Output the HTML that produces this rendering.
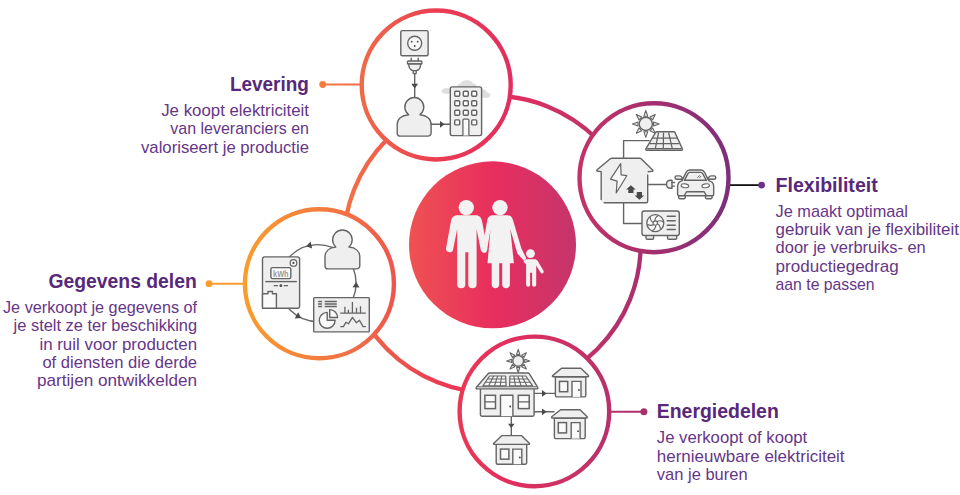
<!DOCTYPE html>
<html lang="nl"><head><meta charset="utf-8"><title>Energie</title>
<style>
html,body{margin:0;padding:0;background:#fff;}
body{width:960px;height:495px;overflow:hidden;}
svg{display:block;}
text{font-family:"Liberation Sans",sans-serif;}
.h{font-weight:700;font-size:20px;fill:#58287a;}
.b{font-size:16.2px;fill:#663688;}
.i{fill:#efefef;stroke:#646464;stroke-width:1.4;stroke-linejoin:round;stroke-linecap:round;}
.l{fill:none;stroke:#646464;stroke-width:1.4;stroke-linejoin:round;stroke-linecap:round;}
.d{fill:#4a4a4a;stroke:none;}
</style></head><body>
<svg width="960" height="495" viewBox="0 0 960 495">
<defs>
<linearGradient id="g" gradientUnits="userSpaceOnUse" x1="245" y1="0" x2="728" y2="0">
<stop offset="0" stop-color="#f89d2e"/>
<stop offset="0.24" stop-color="#f06a48"/>
<stop offset="0.395" stop-color="#eb3d52"/>
<stop offset="0.549" stop-color="#e22e5e"/>
<stop offset="0.692" stop-color="#c53267"/>
<stop offset="0.847" stop-color="#a32f6e"/>
<stop offset="1" stop-color="#7d2f7a"/>
</linearGradient>
<linearGradient id="c" gradientUnits="userSpaceOnUse" x1="409" y1="0" x2="576" y2="0">
<stop offset="0" stop-color="#ef5252"/>
<stop offset="0.5" stop-color="#e82e5e"/>
<stop offset="1" stop-color="#c5356b"/>
</linearGradient>
</defs>
<rect width="960" height="495" fill="#fff"/>

<circle cx="492.2" cy="244.2" r="148.5" fill="none" stroke="url(#g)" stroke-width="4.3"/>
<path d="M322.7 84.5H361" stroke="url(#g)" stroke-width="1.9" fill="none"/>
<circle cx="322.7" cy="84.5" r="3.4" fill="url(#g)"/>
<path d="M209 283.7H245" stroke="#f89d2e" stroke-width="1.9" fill="none"/>
<circle cx="209" cy="283.7" r="3.4" fill="#f89d2e"/>
<path d="M729 185.1H761" stroke="#111" stroke-width="1.8" fill="none"/>
<circle cx="761.6" cy="185.1" r="3.4" fill="#6c3285"/>
<path d="M609 411.7H644" stroke="url(#g)" stroke-width="1.9" fill="none"/>
<circle cx="643.9" cy="411.7" r="3.5" fill="#ab316d"/>
<circle cx="436.2" cy="85.0" r="74.5" fill="#fff" stroke="url(#g)" stroke-width="4.4"/>
<circle cx="654.0" cy="177.7" r="74.5" fill="#fff" stroke="url(#g)" stroke-width="4.4"/>
<circle cx="319.4" cy="283.8" r="74.5" fill="#fff" stroke="url(#g)" stroke-width="4.4"/>
<circle cx="534.4" cy="411.4" r="74.8" fill="#fff" stroke="url(#g)" stroke-width="4.4"/>
<circle cx="492.5" cy="244.8" r="83.5" fill="url(#c)"/>
<g fill="#f2f2f2">
<circle cx="466.3" cy="207.6" r="7.7"/>
<path d="M457.5 215.2H475.5C479.5 215.2 481.3 217.5 482 221L487.2 248.6C487.8 252.5 481.8 253.8 480.8 250L476.6 229V284.8C476.6 289.5 468.3 289.5 468.3 284.8V252.2H465.3V284.8C465.3 289.5 457.2 289.5 457.2 284.8V229L453 250C452 253.8 445.4 252.5 446 248.6L451 221C451.7 217.5 453.5 215.2 457.5 215.2Z"/>
<circle cx="500.0" cy="207.6" r="7.7"/>
<path d="M493 215.2H507.5C510.5 215.2 512 217 512.8 219.5L521.4 248.5L526.3 258.3L524 260.8L517.4 253.6L510.3 229.3L513.9 263.3H509.9V284.8C509.9 289.3 502.2 289.3 502.2 284.8V263.3H499.2V284.8C499.2 289.3 491.7 289.3 491.7 284.8V263.3H487.5L490.5 229.3L487 250.6C486.5 254 481.5 253.4 481.9 250L487.4 219.5C488 217 490 215.2 493 215.2Z"/>
<circle cx="530.5" cy="253.6" r="4.4"/>
<path d="M527.3 259.2H534.3C536 259.2 537 259.8 537.8 261L543.6 271C544.5 272.8 541.8 274.4 540.7 272.7L536.2 265.5V284.6C536.2 287.6 532.1 287.6 532.1 284.6V272.8H530.1V284.6C530.1 287.6 526.1 287.6 526.1 284.6V264.5L523.5 261.5L525 259.5Z"/>
</g>
<g>
<g fill="#dedede"><ellipse cx="446.5" cy="91" rx="5" ry="3"/><ellipse cx="467" cy="84.2" rx="6" ry="4"/><ellipse cx="461.500" cy="86" rx="4" ry="2.5"/><ellipse cx="472.500" cy="86" rx="4" ry="2.5"/><ellipse cx="485.500" cy="95" rx="5" ry="3"/><ellipse cx="483.500" cy="92" rx="3" ry="2.500"/></g>
<rect class="i" x="400.8" y="30.6" width="27.3" height="25.1" rx="1.5"/>
<circle cx="414.7" cy="43.2" r="7" fill="#f8f8f8" stroke="#646464" stroke-width="1.4"/>
<circle class="d" cx="411.7" cy="41.7" r="0.9"/><circle class="d" cx="417.7" cy="41.7" r="0.9"/><circle class="d" cx="414.7" cy="46" r="0.9"/>
<path class="l" d="M411.2 58.2V61M418.2 58.2V61"/>
<rect class="i" x="407.5" y="61" width="14.400" height="3" rx="0.800"/>
<path class="i" d="M408.7 64H420.700C420.7 67.5 418.7 70.3 416.3 70.6H413.100C410.700 70.3 408.700 67.500 408.700 64Z"/>
<rect class="i" x="413.2" y="70.6" width="3" height="3" rx="0.5"/>
<path class="l" d="M414.700 73.6V98"/>
<path class="d" d="M414.70 88.40 L411.30 83.80 L418.10 83.80 Z"/>
<path class="i" d="M408.70 114.70 A9.50 9.50 0 1 1 419.90 114.70 C426.84 115.30 431.10 119.20 431.10 124.70 V132.90 a3.2 3.2 0 0 1 -3.2 3.2 H400.40 a3.2 3.2 0 0 1 -3.2 -3.2 V124.70 C397.20 119.20 401.57 115.30 408.70 114.70 Z"/>
<path class="l" d="M431.100 124.2H450"/>
<path class="d" d="M444.60 124.30 L440.00 127.70 L440.00 120.90 Z"/>
<rect class="i" x="450.3" y="86.9" width="31.300" height="48.7" rx="1.800"/>
<rect x="454.70" y="91.20" width="5" height="5" rx="1" fill="#fafafa" stroke="#646464" stroke-width="1.4"/>
<rect x="463.30" y="91.20" width="5" height="5" rx="1" fill="#fafafa" stroke="#646464" stroke-width="1.4"/>
<rect x="471.70" y="91.20" width="5" height="5" rx="1" fill="#fafafa" stroke="#646464" stroke-width="1.4"/>
<rect x="454.70" y="100.80" width="5" height="5" rx="1" fill="#fafafa" stroke="#646464" stroke-width="1.4"/>
<rect x="463.30" y="100.80" width="5" height="5" rx="1" fill="#fafafa" stroke="#646464" stroke-width="1.4"/>
<rect x="471.70" y="100.80" width="5" height="5" rx="1" fill="#fafafa" stroke="#646464" stroke-width="1.4"/>
<rect x="454.70" y="110.30" width="5" height="5" rx="1" fill="#fafafa" stroke="#646464" stroke-width="1.4"/>
<rect x="463.30" y="110.30" width="5" height="5" rx="1" fill="#fafafa" stroke="#646464" stroke-width="1.4"/>
<rect x="471.70" y="110.30" width="5" height="5" rx="1" fill="#fafafa" stroke="#646464" stroke-width="1.4"/>
<rect x="454.70" y="119.90" width="5" height="5" rx="1" fill="#fafafa" stroke="#646464" stroke-width="1.4"/>
<rect x="471.70" y="119.90" width="5" height="5" rx="1" fill="#fafafa" stroke="#646464" stroke-width="1.4"/>
<path d="M462.900 135.6V120.2a1 1 0 0 1 1 -1h4a1 1 0 0 1 1 1V135.6" fill="#fafafa" stroke="#646464" stroke-width="1.3"/>
</g>
<g>
<circle cx="645.80" cy="123.90" r="6.60" fill="#efefef" stroke="#646464" stroke-width="1.40"/><path d="M643.82 116.15 L645.80 110.50 L647.78 116.15 Z" fill="#e4e4e4" stroke="#646464" stroke-width="1.05" stroke-linejoin="round"/><path d="M649.88 117.02 L655.28 114.42 L652.68 119.82 Z" fill="#e4e4e4" stroke="#646464" stroke-width="1.05" stroke-linejoin="round"/><path d="M653.55 121.92 L659.20 123.90 L653.55 125.88 Z" fill="#e4e4e4" stroke="#646464" stroke-width="1.05" stroke-linejoin="round"/><path d="M652.68 127.98 L655.28 133.38 L649.88 130.78 Z" fill="#e4e4e4" stroke="#646464" stroke-width="1.05" stroke-linejoin="round"/><path d="M647.78 131.65 L645.80 137.30 L643.82 131.65 Z" fill="#e4e4e4" stroke="#646464" stroke-width="1.05" stroke-linejoin="round"/><path d="M641.72 130.78 L636.32 133.38 L638.92 127.98 Z" fill="#e4e4e4" stroke="#646464" stroke-width="1.05" stroke-linejoin="round"/><path d="M638.05 125.88 L632.40 123.90 L638.05 121.92 Z" fill="#e4e4e4" stroke="#646464" stroke-width="1.05" stroke-linejoin="round"/><path d="M638.92 119.82 L636.32 114.42 L641.72 117.02 Z" fill="#e4e4e4" stroke="#646464" stroke-width="1.05" stroke-linejoin="round"/>
<path class="l" d="M649 140.6H623.600V158.2M623.600 202.7V223.5H642M647.700 184.500H666.500"/>
<path class="i" d="M656.8 131.7H673.700C674.300 131.700 674.700 132 675 132.600L682.300 148.800C682.700 149.700 682.300 150.300 681.400 150.300H646.800C645.900 150.300 645.500 149.700 645.900 148.800L655.500 132.600C655.800 132 656.200 131.700 656.800 131.700Z"/>
<path d="M658.600 132.500L655.300 148.600M663.500 132.500L663.300 148.600M668.600 132.500L672.300 148.600M652.400 138.100H677M649.600 143.700H679.500M647.200 148.500H681.500" fill="none" stroke="#646464" stroke-width="1.250"/>
<path d="M601.2 171.500L597.600 171.200C596.600 171.100 596.400 170.300 597.100 169.700L610.300 158.800C610.800 158.400 611.300 158.200 612 158.200H639.400C640.100 158.200 640.600 158.400 641.100 158.800L652.600 169.900C653.200 170.600 652.900 171.300 652 171.400L647.700 171.800V201.200C647.700 202.200 647.200 202.700 646.200 202.700H602.700C601.700 202.700 601.200 202.200 601.200 201.200Z" fill="#efefef" stroke="none"/>
<path class="l" d="M601.2 199.500V171.600L597.600 171.200C596.600 171.100 596.400 170.300 597.100 169.700L610.300 158.800C610.800 158.400 611.300 158.200 612 158.200H639.400C640.100 158.200 640.600 158.400 641.100 158.800L652.600 169.900C653.200 170.600 652.900 171.300 652 171.400L648.200 171.800M647.700 175V201.200C647.700 202.200 647.200 202.700 646.200 202.700H604.200" stroke-width="1.4"/>
<path d="M620.7 163.600L610.500 179.100L617.100 181.100L616.200 193L626.800 175.700L621.100 174.800Z" fill="#f8f8f8" stroke="#646464" stroke-width="1.200" stroke-linejoin="round"/>
<path class="d" d="M630.9 185.200L635.700 189.500H633.500V193H628.300V189.500H626.100Z"/>
<path class="d" d="M639.400 199.800L634.600 195.500H636.800V192H642V195.500H644.200Z"/>
<path class="i" d="M672 180.300V188.300H670.500C668 188.300 666.500 186.500 666.500 184.300C666.500 182.100 668 180.300 670.500 180.300Z"/>
<path class="l" d="M672 182.500H674.600M672 186.100H674.600"/>
<path class="i" d="M682.100 180.600L686.100 172.300C686.800 170.800 687.900 170 689.500 170H701.100C702.700 170 703.800 170.800 704.500 172.300L708.700 180.600C712.300 181.500 713.700 183.300 713.700 186.500V194.200C713.700 195.200 713.200 195.700 712.200 195.700H679.100C678.100 195.700 677.600 195.200 677.600 194.200V186.500C677.600 183.300 679 181.500 682.100 180.600Z"/>
<path class="i" d="M684.400 180.300L687.900 173.700C688.300 172.800 688.900 172.400 689.800 172.400H700.800C701.700 172.400 702.300 172.800 702.700 173.700L706.400 180.300Z" fill="#fafafa"/>
<path class="i" d="M682.300 179.300H677.200C675.700 179.300 675 178.500 675 177.500C675 176.500 675.700 175.900 676.700 175.900H679.500C680.800 175.900 681.600 176.500 682.200 177.600Z"/>
<path class="i" d="M708.500 179.300H713.600C715.100 179.300 715.800 178.500 715.800 177.500C715.800 176.500 715.100 175.900 714.100 175.900H711.300C710 175.900 709.200 176.500 708.600 177.600Z"/>
<ellipse cx="684.900" cy="185.800" rx="3.800" ry="1.900" fill="#fff" stroke="#646464" stroke-width="1.1" transform="rotate(8 684.9 185.8)"/>
<ellipse cx="705.700" cy="185.800" rx="3.800" ry="1.900" fill="#fff" stroke="#646464" stroke-width="1.1" transform="rotate(-8 705.7 185.8)"/>
<path class="l" d="M684.300 195.500L686.700 191.700H704L706.400 195.500"/>
<path class="i" d="M678.700 195.700H685.300V197.600C685.300 198.300 684.900 198.700 684.200 198.700H679.800C679.100 198.700 678.700 198.300 678.700 197.600Z"/>
<path class="i" d="M705.500 195.700H712.100V197.600C712.100 198.300 711.700 198.700 711 198.700H706.600C705.900 198.700 705.500 198.300 705.500 197.600Z"/>
<path d="M697.400 177.900L699.600 175.300M699.300 178L701 176" fill="none" stroke="#646464" stroke-width="0.9"/>
<rect class="i" x="646" y="235" width="7.600" height="4.200" rx="1.300"/>
<rect class="i" x="667.500" y="235" width="9.200" height="4.200" rx="1.300"/>
<rect class="i" x="642" y="211" width="37.300" height="24.500" rx="2.200"/>
<circle cx="655.300" cy="223.100" r="8.500" fill="#f8f8f8" stroke="#646464" stroke-width="1.300"/>
<path d="M657.37 223.85Q660.37 225.24 660.40 229.52M655.68 225.27Q655.98 228.56 652.29 230.73M653.61 224.51Q650.91 226.42 647.19 224.30M653.23 222.35Q650.23 220.96 650.20 216.68M654.92 220.93Q654.62 217.64 658.31 215.47M656.99 221.69Q659.69 219.78 663.41 221.90" fill="none" stroke="#646464" stroke-width="1.100"/>
<circle cx="655.300" cy="223.100" r="2.200" fill="#f8f8f8" stroke="#646464" stroke-width="1.100"/>
<path d="M667.300 216.300H675.200M667.300 220.800H675.200M667.300 225.200H675.200M667.300 229.600H675.200" fill="none" stroke="#646464" stroke-width="1.500" stroke-linecap="round"/>
</g>
<g>
<circle class="l" cx="317.600" cy="283.100" r="38.500"/>
<path class="d" d="M306.12 246.25 L310.57 241.61 L312.18 248.42 Z"/>
<path class="d" d="M356.18 281.88 L359.47 287.41 L352.47 287.14 Z"/>
<path class="d" d="M301.11 318.00 L294.69 318.41 L298.12 312.30 Z"/>
<rect class="i" x="262.500" y="256.900" width="37.100" height="51.300" rx="2.200" stroke-width="1.500"/>
<circle cx="293.500" cy="262.900" r="3.300" fill="#fafafa" stroke="#646464" stroke-width="1.200"/>
<circle class="d" cx="293.500" cy="262.900" r="1.100"/>
<rect x="270.900" y="267.600" width="19.900" height="11" rx="1.500" fill="#fafafa" stroke="#646464" stroke-width="1.400"/>
<text x="280.850" y="276.700" text-anchor="middle" style="font-size:8.500px;fill:#9a9a9a;font-weight:700" textLength="15.500" lengthAdjust="spacingAndGlyphs">kWh</text>
<path d="M265.300 281.600H296.800" fill="none" stroke="#646464" stroke-width="1.400"/>
<path d="M273.700 285.700H278M283.700 285.700H288" fill="none" stroke="#646464" stroke-width="1.300"/>
<circle class="d" cx="280.850" cy="285.700" r="1.400"/>
<path d="M262.500 293.700H268V291.500H272.400V293.700H276.400V308.200H262.500Z" fill="#fafafa" stroke="#646464" stroke-width="1.400" stroke-linejoin="round"/>
<path class="i" d="M335.80 247.00 A9.80 9.80 0 1 1 349.00 247.00 C355.70 247.60 359.80 251.50 359.80 257.00 V265.70 a3.2 3.2 0 0 1 -3.2 3.2 H328.20 a3.2 3.2 0 0 1 -3.2 -3.2 V257.00 C325.00 251.50 329.10 247.60 335.80 247.00 Z"/>
<rect class="i" x="313.700" y="297.600" width="55.600" height="34.300" rx="0.800" stroke-width="1.500"/>
<path d="M318.100 301.400H322.100M324.700 301.400H336.800M318.100 303.900H322.100M324.700 303.900H336.800M318.100 306.400H322.100M324.700 306.400H336.800" fill="none" stroke="#646464" stroke-width="1.450"/>
<path d="M327.200 312.400A7.900 7.900 0 1 0 335.100 320.300H327.200Z" fill="#fafafa" stroke="#646464" stroke-width="1.400" stroke-linejoin="round"/>
<path d="M329.700 309.600A7.900 7.900 0 0 1 337.600 317.500H329.700Z" fill="#fafafa" stroke="#646464" stroke-width="1.400" stroke-linejoin="round"/>
<path d="M340.300 313.200H365.800M344.900 313.200V306.700M348.400 313.200V309.700M352.400 313.200V302.100M356.500 313.200V307.700M360.500 313.200V306.200" fill="none" stroke="#646464" stroke-width="1.300"/>
<path d="M340.300 326.600H343.400L345.900 322.300L348.400 323.800L352.400 317.300L356.500 322.800L359.500 320.300L363.100 326.600H365.800" fill="none" stroke="#646464" stroke-width="1.300" stroke-linejoin="round"/>
</g>
<g>
<circle cx="518.20" cy="360.90" r="5.40" fill="#efefef" stroke="#646464" stroke-width="1.40"/><path d="M516.54 354.41 L518.20 349.30 L519.86 354.41 Z" fill="#e4e4e4" stroke="#646464" stroke-width="1.05" stroke-linejoin="round"/><path d="M521.62 355.14 L526.40 352.70 L523.96 357.48 Z" fill="#e4e4e4" stroke="#646464" stroke-width="1.05" stroke-linejoin="round"/><path d="M524.69 359.24 L529.80 360.90 L524.69 362.56 Z" fill="#e4e4e4" stroke="#646464" stroke-width="1.05" stroke-linejoin="round"/><path d="M523.96 364.32 L526.40 369.10 L521.62 366.66 Z" fill="#e4e4e4" stroke="#646464" stroke-width="1.05" stroke-linejoin="round"/><path d="M519.86 367.39 L518.20 372.50 L516.54 367.39 Z" fill="#e4e4e4" stroke="#646464" stroke-width="1.05" stroke-linejoin="round"/><path d="M514.78 366.66 L510.00 369.10 L512.44 364.32 Z" fill="#e4e4e4" stroke="#646464" stroke-width="1.05" stroke-linejoin="round"/><path d="M511.71 362.56 L506.60 360.90 L511.71 359.24 Z" fill="#e4e4e4" stroke="#646464" stroke-width="1.05" stroke-linejoin="round"/><path d="M512.44 357.48 L510.00 352.70 L514.78 355.14 Z" fill="#e4e4e4" stroke="#646464" stroke-width="1.05" stroke-linejoin="round"/>
<path class="l" d="M534 393.400H555.500M534 411.800H554M511.300 416.200V436"/>
<path class="d" d="M546.60 393.40 L542.00 396.80 L542.00 390.00 Z"/>
<path class="d" d="M546.60 411.80 L542.00 415.20 L542.00 408.40 Z"/>
<path class="d" d="M511.30 428.00 L508.00 423.80 L514.60 423.80 Z"/>
<path class="i" d="M480.400 388H534.100V414.400a1.800 1.800 0 0 1 -1.800 1.800H482.200a1.800 1.800 0 0 1 -1.800 -1.800Z"/>
<path class="i" d="M489.600 373H527.900C528.600 373 529 373.200 529.400 373.800L537.600 387.200C538.100 388.200 537.800 388.900 536.700 388.900H477.300C476.200 388.900 475.900 388.200 476.400 387.200L488.100 373.800C488.500 373.200 488.900 373 489.600 373Z"/>
<path d="M477.500 386.800H536.500" fill="none" stroke="#646464" stroke-width="1"/>
<path d="M489.600 376H505.600L506.100 385.800H482.900Z M509.900 376H525.800L532.600 385.800H509.600Z" fill="#fafafa" stroke="#646464" stroke-width="1.200" stroke-linejoin="round"/>
<path d="M493.60 376L488.70 385.800M513.88 376L515.35 385.800M497.60 376L494.50 385.800M517.85 376L521.10 385.800M501.60 376L500.30 385.800M521.82 376L526.85 385.800M487.55 379.00H505.75M509.81 379.00H527.88M485.36 382.20H505.92M509.71 382.20H530.10" fill="none" stroke="#646464" stroke-width="1.100"/>
<rect x="484.900" y="395.300" width="10.600" height="13.300" fill="#fafafa" stroke="#646464" stroke-width="1.500"/>
<rect x="518.300" y="395.300" width="10.900" height="13.300" fill="#fafafa" stroke="#646464" stroke-width="1.500"/>
<path d="M484.900 401.900H495.500M518.300 401.900H529.200" fill="none" stroke="#646464" stroke-width="1.400"/>
<path d="M500.500 416.200V395.300H512.900V416.200" fill="#fafafa" stroke="#646464" stroke-width="1.400"/>
<circle class="d" cx="510.200" cy="406.400" r="1"/>
<path class="i" d="M555.40 376.80H585.80V395.40a1.5 1.5 0 0 1 -1.5 1.5H556.90a1.5 1.5 0 0 1 -1.5 -1.5Z"/><path class="i" d="M561.50 368.20H580.90L588.40 375.60Q589.10 376.80 587.70 376.80H553.30Q551.90 376.80 552.60 375.60Z"/><rect x="559.50" y="381.40" width="8.20" height="10.30" fill="#fafafa" stroke="#646464" stroke-width="1.500"/><path d="M572.00 396.90V381.40H581.00V396.90" fill="#fafafa" stroke="#646464" stroke-width="1.400"/><circle class="d" cx="578.90" cy="390.00" r="0.900"/>
<path class="i" d="M554.40 418.00H585.20V437.10a1.5 1.5 0 0 1 -1.5 1.5H555.90a1.5 1.5 0 0 1 -1.5 -1.5Z"/><path class="i" d="M560.60 409.80H580.00L587.20 416.80Q587.90 418.00 586.50 418.00H552.40Q551.00 418.00 551.70 416.80Z"/><rect x="558.30" y="422.60" width="8.20" height="10.30" fill="#fafafa" stroke="#646464" stroke-width="1.500"/><path d="M571.20 438.60V422.60H580.10V438.60" fill="#fafafa" stroke="#646464" stroke-width="1.400"/><circle class="d" cx="578.00" cy="431.20" r="0.900"/>
<path class="i" d="M496.20 444.40H526.70V462.70a1.5 1.5 0 0 1 -1.5 1.5H497.70a1.5 1.5 0 0 1 -1.5 -1.5Z"/><path class="i" d="M502.00 435.60H521.40L529.30 443.20Q530.00 444.40 528.60 444.40H494.50Q493.10 444.40 493.80 443.20Z"/><rect x="500.50" y="449.10" width="8.40" height="10.10" fill="#fafafa" stroke="#646464" stroke-width="1.500"/><path d="M512.80 464.20V449.10H521.80V464.20" fill="#fafafa" stroke="#646464" stroke-width="1.400"/><circle class="d" cx="519.80" cy="457.50" r="0.900"/>
</g>
<text class="h" x="308.80" y="91.30" text-anchor="end" textLength="78.90" lengthAdjust="spacingAndGlyphs">Levering</text>
<text class="b" x="309.00" y="116.00" text-anchor="end" textLength="147.80" lengthAdjust="spacingAndGlyphs">Je koopt elektriciteit</text>
<text class="b" x="309.00" y="134.40" text-anchor="end" textLength="138.70" lengthAdjust="spacingAndGlyphs">van leveranciers en</text>
<text class="b" x="309.00" y="153.10" text-anchor="end" textLength="168.00" lengthAdjust="spacingAndGlyphs">valoriseert je productie</text>
<text class="h" x="196.80" y="287.90" text-anchor="end" textLength="148.30" lengthAdjust="spacingAndGlyphs">Gegevens delen</text>
<text class="b" x="197.10" y="312.70" text-anchor="end" textLength="194.10" lengthAdjust="spacingAndGlyphs">Je verkoopt je gegevens of</text>
<text class="b" x="197.10" y="331.10" text-anchor="end" textLength="183.50" lengthAdjust="spacingAndGlyphs">je stelt ze ter beschikking</text>
<text class="b" x="197.10" y="349.50" text-anchor="end" textLength="157.70" lengthAdjust="spacingAndGlyphs">in ruil voor producten</text>
<text class="b" x="197.10" y="368.00" text-anchor="end" textLength="154.70" lengthAdjust="spacingAndGlyphs">of diensten die derde</text>
<text class="b" x="197.10" y="386.30" text-anchor="end" textLength="160.10" lengthAdjust="spacingAndGlyphs">partijen ontwikkelden</text>
<text class="h" x="775.60" y="191.60" text-anchor="start" textLength="102.10" lengthAdjust="spacingAndGlyphs">Flexibiliteit</text>
<text class="b" x="775.60" y="216.50" text-anchor="start" textLength="132.40" lengthAdjust="spacingAndGlyphs">Je maakt optimaal</text>
<text class="b" x="775.60" y="234.90" text-anchor="start" textLength="183.30" lengthAdjust="spacingAndGlyphs">gebruik van je flexibiliteit</text>
<text class="b" x="775.60" y="253.30" text-anchor="start" textLength="150.20" lengthAdjust="spacingAndGlyphs">door je verbruiks- en</text>
<text class="b" x="775.60" y="271.70" text-anchor="start" textLength="123.10" lengthAdjust="spacingAndGlyphs">productiegedrag</text>
<text class="b" x="775.60" y="290.10" text-anchor="start" textLength="99.00" lengthAdjust="spacingAndGlyphs">aan te passen</text>
<text class="h" x="656.80" y="417.90" text-anchor="start" textLength="122.00" lengthAdjust="spacingAndGlyphs">Energiedelen</text>
<text class="b" x="656.80" y="443.30" text-anchor="start" textLength="150.40" lengthAdjust="spacingAndGlyphs">Je verkoopt of koopt</text>
<text class="b" x="656.80" y="461.70" text-anchor="start" textLength="187.80" lengthAdjust="spacingAndGlyphs">hernieuwbare elektriciteit</text>
<text class="b" x="656.80" y="479.60" text-anchor="start" textLength="90.80" lengthAdjust="spacingAndGlyphs">van je buren</text>
</svg></body></html>
